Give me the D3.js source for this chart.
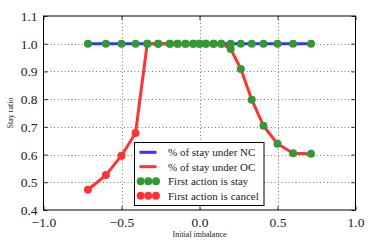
<!DOCTYPE html>
<html><head><meta charset="utf-8">
<script src="https://cdn.jsdelivr.net/npm/d3@7"></script>
<style>body{margin:0;background:#fff}svg{display:block}svg text{font-family:"Liberation Serif","DejaVu Serif",serif !important}</style>
</head><body>
<script>
const imbalance = [-0.715,-0.6,-0.5,-0.41,-0.335,-0.265,-0.19,-0.14,-0.09,-0.04,0,0.04,0.09,0.14,0.2,0.265,0.335,0.41,0.5,0.6,0.715];
const stayNC = [1,1,1,1,1,1,1,1,1,1,1,1,1,1,1,1,1,1,1,1,1];
const stayOC = [0.473,0.526,0.596,0.678,1,1,1,1,1,1,1,1,1,1,0.981,0.909,0.798,0.704,0.639,0.605,0.603];
const firstActionOC = ["cancel","cancel","cancel","cancel","stay","stay","stay","stay","stay","stay","stay","stay","stay","stay","stay","stay","stay","stay","stay","stay","stay"];
const xTicks = [-1.0,-0.5,0.0,0.5,1.0];
const yTicks = [0.4,0.5,0.6,0.7,0.8,0.9,1.0,1.1];
const legendLabels = ["% of stay under NC","% of stay under OC","First action is stay","First action is cancel"];

const W=374,H=249;
const L=43.5,R=355.5,T=16,B=210;
const blue="#3333ff", red="#ff3333", green="#339933";

const svg=d3.select("body").append("svg").attr("width",W).attr("height",H);
const x=d3.scaleLinear().domain([-1,1]).range([L,R]);
const y=d3.scaleLinear().domain([0.4,1.1]).range([B,T]);

// grid
const g=svg.append("g");
g.selectAll("line.gx").data(xTicks.slice(1,-1)).join("line")
 .attr("x1",d=>Math.round(x(d))+0.5).attr("x2",d=>Math.round(x(d))+0.5).attr("y1",T).attr("y2",B)
 .attr("stroke","#555").attr("stroke-width",0.8).attr("stroke-dasharray","1,2.5");
g.selectAll("line.gy").data(yTicks.slice(1,-1)).join("line")
 .attr("y1",d=>Math.round(y(d))+0.5).attr("y2",d=>Math.round(y(d))+0.5).attr("x1",L).attr("x2",R)
 .attr("stroke","#555").attr("stroke-width",0.8).attr("stroke-dasharray","1,2.5");

// axes with inward ticks
const ax=svg.append("g");
const xb=ax.append("g").attr("transform",`translate(0,${B})`).call(d3.axisBottom(x).tickValues(xTicks).tickSizeInner(-4).tickSizeOuter(0).tickPadding(7.5).tickFormat(d=>d3.format(".1f")(d).replace("-","\u2212")));
const xt=ax.append("g").attr("transform",`translate(0,${T})`).call(d3.axisTop(x).tickValues(xTicks).tickSizeInner(-4).tickSizeOuter(0).tickFormat(""));
const yl=ax.append("g").attr("transform",`translate(${L},0)`).call(d3.axisLeft(y).tickValues(yTicks).tickSizeInner(-4).tickSizeOuter(0).tickPadding(6).tickFormat(d3.format(".1f")));
const yr=ax.append("g").attr("transform",`translate(${R},0)`).call(d3.axisRight(y).tickValues(yTicks).tickSizeInner(-4).tickSizeOuter(0).tickFormat(""));
ax.selectAll(".domain").remove();
ax.selectAll(".tick line").attr("stroke","#000").attr("stroke-width",0.8);
ax.selectAll(".tick text").attr("font-size",13.5).attr("fill","#222");
yl.selectAll(".tick text").attr("dy","0.33em");

// data lines
const line=d3.line().x(d=>x(d[0])).y(d=>y(d[1]));
svg.append("path").datum(imbalance.map((v,i)=>[v,stayNC[i]])).attr("d",line)
 .attr("fill","none").attr("stroke",blue).attr("stroke-width",3);
svg.append("path").datum(imbalance.map((v,i)=>[v,stayOC[i]])).attr("d",line)
 .attr("fill","none").attr("stroke",red).attr("stroke-width",3).attr("stroke-linejoin","round");

// markers
const pts=[];
imbalance.forEach((v,i)=>pts.push({x:v,y:stayNC[i],a:"stay"}));
imbalance.forEach((v,i)=>pts.push({x:v,y:stayOC[i],a:firstActionOC[i]}));
svg.selectAll("circle.s").data(pts.filter(p=>p.a==="stay")).join("circle")
 .attr("cx",d=>x(d.x)).attr("cy",d=>y(d.y)).attr("r",4).attr("fill",green);
svg.selectAll("circle.c").data(pts.filter(p=>p.a==="cancel")).join("circle")
 .attr("cx",d=>x(d.x)).attr("cy",d=>y(d.y)).attr("r",4).attr("fill",red);

// frame
svg.append("rect").attr("x",L).attr("y",T).attr("width",R-L).attr("height",B-T)
 .attr("fill","none").attr("stroke","#000").attr("stroke-width",1);

// labels
svg.append("text").attr("x",(L+R)/2).attr("y",237).attr("text-anchor","middle")
 .attr("font-size",8).attr("fill","#222").text("Initial imbalance");
svg.append("text").attr("transform",`translate(13,${(T+B)/2}) rotate(-90)`).attr("text-anchor","middle")
 .attr("font-size",8).attr("fill","#222").text("Stay ratio");

// legend
const lg=svg.append("g");
lg.append("rect").attr("x",134.5).attr("y",142.5).attr("width",129.5).attr("height",63)
 .attr("fill","#fff").attr("stroke","#000").attr("stroke-width",1);
const rows=[152.3,166.7,181.3,195.7];
const hx=d3.scaleLinear().domain([0,1]).range([139.5,156.5]);
lg.append("line").attr("x1",hx(0)).attr("x2",hx(1)).attr("y1",rows[0]).attr("y2",rows[0]).attr("stroke",blue).attr("stroke-width",3);
lg.append("line").attr("x1",hx(0)).attr("x2",hx(1)).attr("y1",rows[1]).attr("y2",rows[1]).attr("stroke",red).attr("stroke-width",3);
[0.07,0.52,0.97].forEach(t=>{
  lg.append("circle").attr("cx",hx(t)).attr("cy",rows[2]).attr("r",4).attr("fill",green);
  lg.append("circle").attr("cx",hx(t)).attr("cy",rows[3]).attr("r",4).attr("fill",red);
});
lg.selectAll("text").data(legendLabels).join("text").attr("x",168).attr("y",(d,i)=>rows[i]).attr("dy","0.35em")
 .attr("font-size",11).attr("fill","#222").text(d=>d);
</script>
</body></html>
